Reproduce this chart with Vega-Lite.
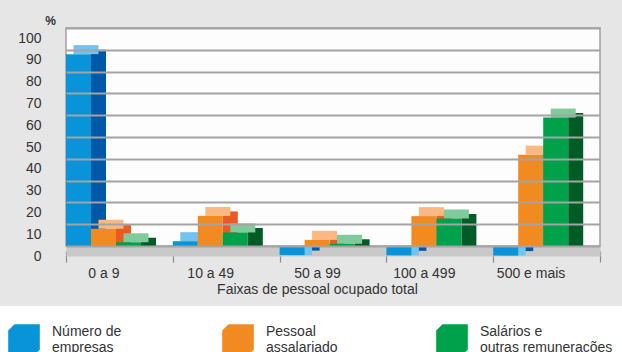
{
  "$schema": "https://vega.github.io/schema/vega-lite/v6.json",
  "width": 534,
  "height": 218,
  "autosize": {"type": "none"},
  "padding": {"left": 66, "top": 28, "right": 22, "bottom": 106},
  "background": "#e6e6e6",
  "config": {
    "view": {"fill": "#fdfdfd", "stroke": "#a0a0a0", "strokeWidth": 1.5},
    "font": "Liberation Sans",
    "axisX": {
      "labelAngle": 0,
      "domain": true,
      "domainColor": "#c9c9c9",
      "domainWidth": 10,
      "grid": false,
      "tickBand": "extent",
      "tickOffset": -16,
      "labelOffset": -16,
      "offset": 5,
      "tickColor": "#8a8a8a",
      "tickSize": 11,
      "tickWidth": 1.2,
      "labelFontSize": 14,
      "labelColor": "#333333",
      "labelPadding": 4,
      "titleFontSize": 14,
      "titleFontWeight": "normal",
      "titleColor": "#333333",
      "titlePadding": 2,
      "titleX": 251
    }
  },
  "data": {
    "values": [
      {"faixa": "0  a  9", "serie": "Número de empresas", "valor": 92.6},
      {"faixa": "0  a  9", "serie": "Pessoal assalariado", "valor": 12.5},
      {"faixa": "0  a  9", "serie": "Salários e outras remunerações", "valor": 6.3},
      {"faixa": "10 a 49", "serie": "Número de empresas", "valor": 6.8},
      {"faixa": "10 a 49", "serie": "Pessoal assalariado", "valor": 18.4},
      {"faixa": "10 a 49", "serie": "Salários e outras remunerações", "valor": 10.8},
      {"faixa": "50 a 99", "serie": "Número de empresas", "valor": 0.4},
      {"faixa": "50 a 99", "serie": "Pessoal assalariado", "valor": 7.4},
      {"faixa": "50 a 99", "serie": "Salários e outras remunerações", "valor": 5.6},
      {"faixa": "100 a 499", "serie": "Número de empresas", "valor": 0.3},
      {"faixa": "100 a 499", "serie": "Pessoal assalariado", "valor": 18.3},
      {"faixa": "100 a 499", "serie": "Salários e outras remunerações", "valor": 17.2},
      {"faixa": "500 e mais", "serie": "Número de empresas", "valor": 0.2},
      {"faixa": "500 e mais", "serie": "Pessoal assalariado", "valor": 46.5},
      {"faixa": "500 e mais", "serie": "Salários e outras remunerações", "valor": 63.5}
    ]
  },
  "encoding": {
    "x": {"field": "faixa", "type": "nominal", "sort": null,
      "scale": {"paddingInner": 0, "paddingOuter": 0},
      "axis": {"title": "Faixas de pessoal ocupado total"}},
    "y": {"field": "valor", "type": "quantitative", "stack": null,
      "scale": {"domain": [0, 100], "nice": false},
      "axis": {
        "values": [0, 10, 20, 30, 40, 50, 60, 70, 80, 90, 100],
        "grid": true,
        "gridColor": "#a4a4a4",
        "gridWidth": 2,
        "gridOpacity": 1,
        "zindex": 1,
        "title": "%",
        "titleAngle": 0,
        "titleX": -16,
        "titleY": -8,
        "titleAlign": "center",
        "titleBaseline": "middle",
        "titleFontSize": 12,
        "titleFontWeight": "bold",
        "titleColor": "#333333",
        "labelFontSize": 14,
        "labelColor": "#333333",
        "labelPadding": 25,
        "labelOffset": 10,
        "ticks": false,
        "domain": false
      }
    }
  },
  "layer": [
    {
      "mark": {"type": "bar", "width": 15, "yOffset": 5.5, "y2Offset": 5.5},
      "encoding": {
        "xOffset": {"field": "serie", "type": "nominal", "sort": null,
          "scale": {"range": [20, 95], "paddingInner": 0, "paddingOuter": 0}},
        "color": {"field": "serie", "type": "nominal", "sort": null,
          "scale": {"range": ["#0058a8", "#ec5a24", "#005c27"]}, "legend": null}
      }
    },
    {
      "mark": {"type": "bar", "yOffset": 1, "y2Offset": 10},
      "encoding": {
        "xOffset": {"field": "serie", "type": "nominal", "sort": null,
          "scale": {"range": [7.5, 82.5], "paddingInner": 0, "paddingOuter": 0}},
        "y2": {"field": "valor"},
        "color": {"field": "serie", "type": "nominal", "sort": null,
          "scale": {"range": ["#74c3ee", "#fbb883", "#80cb9b"]}, "legend": null}
      }
    },
    {
      "mark": {"type": "bar", "yOffset": 10, "y2Offset": 10},
      "encoding": {
        "xOffset": {"field": "serie", "type": "nominal", "sort": null,
          "scale": {"range": [0, 75], "paddingInner": 0, "paddingOuter": 0}},
        "color": {"field": "serie", "type": "nominal", "sort": null,
          "scale": {"range": ["#0994d9", "#f28a22", "#00a14b"]},
          "legend": {
            "title": null,
            "orient": "none",
            "legendX": -76,
            "legendY": 278,
            "direction": "horizontal",
            "columns": 3,
            "gridAlign": "all",
            "columnPadding": 37,
            "fillColor": "#ffffff",
            "padding": 18,
            "symbolType": "M-1,-0.6L-0.6,-1L1,-1L1,0.6L0.6,1L-1,1Z",
            "symbolSize": 1000,
            "symbolStrokeWidth": 0,
            "labelFontSize": 14,
            "labelColor": "#333333",
            "labelOffset": 12,
            "labelLimit": 300,
            "labelBaseline": "line-bottom",
            "labelExpr": "datum.label == 'Número de empresas' ? ['Número de', 'empresas'] : datum.label == 'Pessoal assalariado' ? ['Pessoal', 'assalariado'] : ['Salários e', 'outras remunerações']"
          }
        }
      }
    }
  ],
  "resolve": {"scale": {"xOffset": "independent", "color": "independent"}}
}
